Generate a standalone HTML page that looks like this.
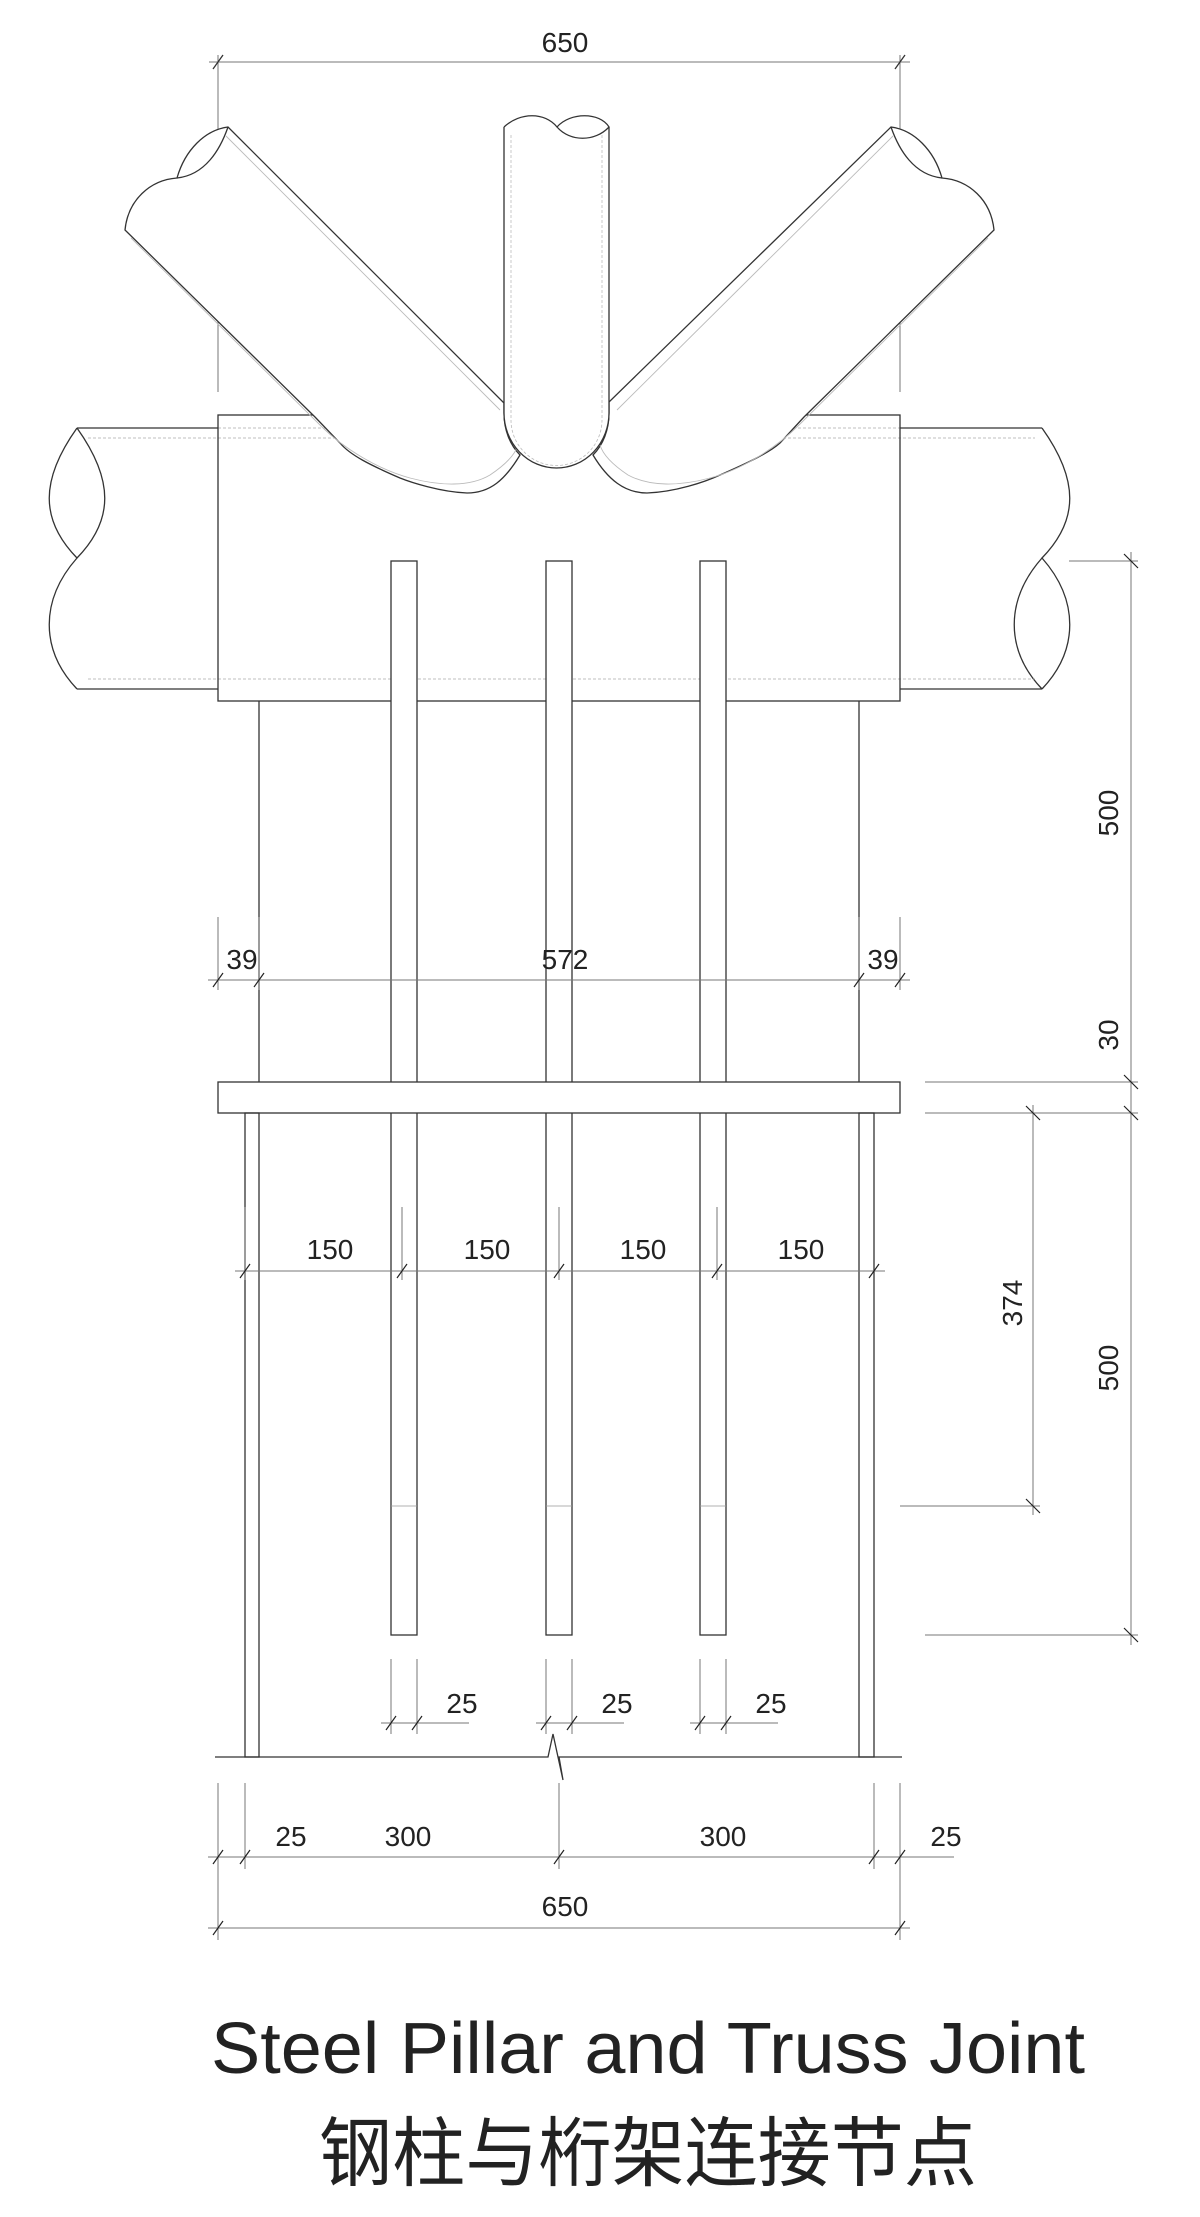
<!DOCTYPE html>
<html><head><meta charset="utf-8"><style>
html,body{margin:0;padding:0;background:#fff;}
svg{display:block;}
text{font-family:"Liberation Sans","Noto Sans CJK SC",sans-serif;fill:#222;}
</style></head><body>
<svg width="1200" height="2217" viewBox="0 0 1200 2217" xmlns="http://www.w3.org/2000/svg">
<g fill="none" stroke="#333" stroke-width="1.3">
<!-- top dim -->
<line x1="209" y1="62" x2="910" y2="62" stroke="#777" stroke-width="1"/>
<line x1="218" y1="55" x2="218" y2="290" stroke="#777" stroke-width="1"/>
<line x1="900" y1="55" x2="900" y2="290" stroke="#777" stroke-width="1"/>
<line x1="218" y1="290" x2="218" y2="392" stroke="#777" stroke-width="1"/>
<line x1="900" y1="290" x2="900" y2="392" stroke="#777" stroke-width="1"/>
<path d="M213,69 L223,55 M895,69 L905,55"/>

<!-- horizontal pipe -->
<path d="M77,428 L218,428 M900,428 L1042,428 M77,689 L218,689 M900,689 L1042,689"/>
<path d="M77,428 C40,480 40,520 77,558 C40,600 40,650 77,689"/>
<path d="M77,428 C114,480 114,520 77,558"/>
<path d="M1042,428 C1079,480 1079,520 1042,558 C1079,600 1079,650 1042,689"/>
<path d="M1042,558 C1005,600 1005,650 1042,689"/>
<g stroke="#aaa" stroke-width="0.8" stroke-dasharray="3,2">
<line x1="88" y1="438" x2="1035" y2="438"/>
<line x1="88" y1="679" x2="1035" y2="679"/>
<line x1="218" y1="428" x2="900" y2="428"/>
<line x1="218" y1="415" x2="900" y2="415"/>
</g>
<!-- plate -->
<rect x="218" y="415" width="682" height="286" fill="none"/>

<!-- left diagonal -->
<g fill="#fff">
<path d="M228,127 L504,403 L504,413 C504,430 510,445 520,455 C505,480 490,493 467,493 C440,492 410,482 400,478 C370,465 350,455 340,443 L315,417 L125,230 C128,200 150,180 177,178 C185,150 205,130 228,127 Z"/>
<path d="M891,127 L609,402 L609,413 C609,430 603,445 593,455 C608,480 625,493 647,493 C675,492 705,482 720,475 C750,462 770,452 780,443 L804,417 L994,230 C991,200 969,180 942,178 C934,150 914,130 891,127 Z"/>
</g>
<path d="M228,127 C220,150 205,175 177,178"/>
<path d="M891,127 C899,150 914,175 942,178"/>
<g stroke="#bbb" stroke-width="0.9">
<path d="M226,136 L500,410"/>
<path d="M131,238 L320,425 C345,450 380,470 410,478 C440,486 470,487 490,475 C505,465 515,455 518,445"/>
<path d="M893,136 L617,410"/>
<path d="M988,238 L799,425 C774,450 740,470 710,478 C680,486 650,487 628,475 C613,465 603,455 600,445"/>
</g>

<!-- central tube -->
<path d="M504,127 L504,413 A52.5,55 0 0 0 609,413 L609,127" fill="#fff"/>
<path d="M504,127 C520,112 545,112 557,127 C570,112 600,112 609,127 C595,142 570,142 557,127"/>
<g stroke="#bbb" stroke-width="0.8" stroke-dasharray="3,2">
<line x1="511" y1="135" x2="511" y2="420"/>
<line x1="602" y1="135" x2="602" y2="420"/>
<path d="M511,420 A45,45 0 0 0 602,420"/>
</g>

<!-- bars -->
<rect x="391" y="561" width="26" height="1074" fill="#fff"/>
<rect x="546" y="561" width="26" height="1074" fill="#fff"/>
<rect x="700" y="561" width="26" height="1074" fill="#fff"/>
<g stroke="#999" stroke-width="0.8">
<line x1="391" y1="1506" x2="417" y2="1506"/>
<line x1="546" y1="1506" x2="572" y2="1506"/>
<line x1="700" y1="1506" x2="726" y2="1506"/>
</g>
<!-- upper column lines -->
<line x1="259" y1="701" x2="259" y2="1082"/>
<line x1="859" y1="701" x2="859" y2="1082"/>
<!-- base plate -->
<rect x="218" y="1082" width="682" height="31" fill="#fff"/>
<!-- lower columns -->
<rect x="245" y="1113" width="14" height="644"/>
<rect x="859" y="1113" width="15" height="644"/>
<!-- ground line -->
<path d="M215,1757 L548,1757 L553,1734 L563,1780 L559,1757 L902,1757"/>

<g stroke="#777" stroke-width="1">
<!-- 39/572/39 -->
<line x1="208" y1="980" x2="910" y2="980"/>
<line x1="218" y1="917" x2="218" y2="990"/>
<line x1="900" y1="917" x2="900" y2="990"/>
<line x1="259" y1="917" x2="259" y2="990"/>
<line x1="859" y1="917" x2="859" y2="990"/>
<!-- 150s -->
<line x1="235" y1="1271" x2="885" y2="1271"/>
<line x1="245" y1="1207" x2="245" y2="1280"/>
<line x1="402" y1="1207" x2="402" y2="1280"/>
<line x1="559" y1="1207" x2="559" y2="1280"/>
<line x1="717" y1="1207" x2="717" y2="1280"/>
<!-- 25s -->
<line x1="381" y1="1723" x2="469" y2="1723"/>
<line x1="536" y1="1723" x2="624" y2="1723"/>
<line x1="690" y1="1723" x2="778" y2="1723"/>
<line x1="391" y1="1659" x2="391" y2="1734"/><line x1="417" y1="1659" x2="417" y2="1734"/>
<line x1="546" y1="1659" x2="546" y2="1734"/><line x1="572" y1="1659" x2="572" y2="1734"/>
<line x1="700" y1="1659" x2="700" y2="1734"/><line x1="726" y1="1659" x2="726" y2="1734"/>
<!-- bottom dims -->
<line x1="208" y1="1857" x2="954" y2="1857"/>
<line x1="208" y1="1928" x2="910" y2="1928"/>
<line x1="218" y1="1783" x2="218" y2="1940"/>
<line x1="245" y1="1783" x2="245" y2="1869"/>
<line x1="559" y1="1783" x2="559" y2="1869"/>
<line x1="874" y1="1783" x2="874" y2="1869"/>
<line x1="900" y1="1783" x2="900" y2="1940"/>
<!-- right dims -->
<line x1="1131" y1="552" x2="1131" y2="1645"/>
<line x1="1069" y1="561" x2="1138" y2="561"/>
<line x1="925" y1="1082" x2="1138" y2="1082"/>
<line x1="925" y1="1113" x2="1138" y2="1113"/>
<line x1="925" y1="1635" x2="1138" y2="1635"/>
<line x1="1033" y1="1105" x2="1033" y2="1515"/>
<line x1="900" y1="1506" x2="1040" y2="1506"/>
</g>
<!-- ticks -->
<g stroke="#222" stroke-width="1.2">
<path d="M213,987 l10,-14 M254,987 l10,-14 M854,987 l10,-14 M895,987 l10,-14"/>
<path d="M240,1278 l10,-14 M397,1278 l10,-14 M554,1278 l10,-14 M712,1278 l10,-14 M869,1278 l10,-14"/>
<path d="M386,1730 l10,-14 M412,1730 l10,-14 M541,1730 l10,-14 M567,1730 l10,-14 M695,1730 l10,-14 M721,1730 l10,-14"/>
<path d="M213,1864 l10,-14 M240,1864 l10,-14 M554,1864 l10,-14 M869,1864 l10,-14 M895,1864 l10,-14"/>
<path d="M213,1935 l10,-14 M895,1935 l10,-14"/>
<path d="M1124,554 l14,14 M1124,1075 l14,14 M1124,1106 l14,14 M1124,1628 l14,14 M1026,1106 l14,14 M1026,1499 l14,14"/>
</g>
</g>

<g font-size="28" text-anchor="middle">
<text x="565" y="52">650</text>
<text x="242" y="969">39</text>
<text x="565" y="969">572</text>
<text x="883" y="969">39</text>
<text x="330" y="1259">150</text>
<text x="487" y="1259">150</text>
<text x="643" y="1259">150</text>
<text x="801" y="1259">150</text>
<text x="462" y="1713">25</text>
<text x="617" y="1713">25</text>
<text x="771" y="1713">25</text>
<text x="291" y="1846">25</text>
<text x="408" y="1846">300</text>
<text x="723" y="1846">300</text>
<text x="946" y="1846">25</text>
<text x="565" y="1916">650</text>
<text transform="translate(1118,813) rotate(-90)">500</text>
<text transform="translate(1118,1035) rotate(-90)">30</text>
<text transform="translate(1022,1303) rotate(-90)">374</text>
<text transform="translate(1118,1368) rotate(-90)">500</text>
</g>
<text x="648" y="2073" font-size="72" text-anchor="middle" textLength="874" lengthAdjust="spacingAndGlyphs">Steel Pillar and Truss Joint</text>
<text x="648" y="2180" font-size="76" text-anchor="middle" font-family="'Noto Sans CJK SC',sans-serif" textLength="658" lengthAdjust="spacingAndGlyphs">钢柱与桁架连接节点</text>
</svg>
</body></html>
